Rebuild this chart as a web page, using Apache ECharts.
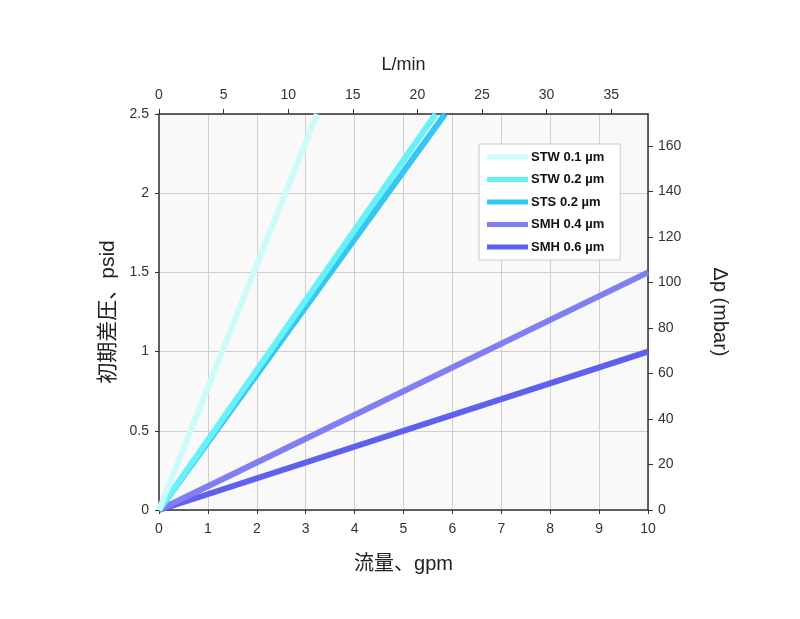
<!DOCTYPE html>
<html>
<head>
<meta charset="utf-8">
<title>初期差圧</title>
<script src="https://cdn.jsdelivr.net/npm/echarts@6/dist/echarts.min.js"></script>
<style>
  html, body { margin: 0; padding: 0; background: #fff; }
  #main { width: 800px; height: 619px; }
</style>
</head>
<body>
<div id="main"></div>
<script>
// series names and colours
var names = ['STW 0.1 µm', 'STW 0.2 µm', 'STS 0.2 µm', 'SMH 0.4 µm', 'SMH 0.6 µm'];
var colors = ['#cdfafa', '#66f2f8', '#35c6f2', '#7f7ff2', '#5f5ff0'];
// [gpm, psid] end points of each straight line
var stw01 = [[0, 0], [3.23, 2.5]];
var stw02 = [[0, 0], [5.66, 2.5]];
var sts02 = [[0, 0], [5.85, 2.5]];
var smh04 = [[0, 0], [10, 1.5]];
var smh06 = [[0, 0], [10, 1.0]];
var lines = [stw01, stw02, sts02, smh04, smh06];

var gpmMax = 10, psidMax = 2.5;
var lpmMax = 37.85;   // 10 gpm in L/min
var mbarMax = 174;    // right axis top

var font = 'Liberation Sans, Arial, Helvetica, sans-serif';
var cjk = 'Liberation Sans, "Noto Sans CJK JP", sans-serif';
var axisCol = '#333';

var chart = echarts.init(document.getElementById('main'));

var series = [];
for (var i = 0; i < names.length; i++) {
  series.push({
    name: names[i],
    type: 'line',
    data: lines[i],
    xAxisIndex: 0,
    yAxisIndex: 0,
    symbol: 'none',
    lineStyle: { width: 6, color: colors[i] },
    itemStyle: { color: colors[i] },
    z: 10 - i
  });
}

function axisLine() {
  return { show: true, onZero: false, lineStyle: { color: axisCol, width: 1.5 } };
}

var option = {
  animation: false,
  grid: {
    left: 159, right: 152, top: 114, bottom: 109,
    show: true, backgroundColor: '#f9f9f9', borderWidth: 0
  },
  legend: {
    orient: 'vertical',
    left: 479, top: 144,
    padding: [6, 16, 6, 8],
    backgroundColor: '#fff',
    borderColor: '#c8c8c8',
    borderWidth: 1,
    itemWidth: 41, itemHeight: 5,
    itemGap: 8.5,
    icon: 'rect',
    data: names,
    textStyle: { fontFamily: font, fontWeight: 'bold', fontSize: 13, color: '#111', lineHeight: 14, padding: [0, 0, 0, -2] }
  },
  xAxis: [{
    type: 'value', position: 'bottom',
    min: 0, max: gpmMax, interval: 1,
    name: '流量、gpm', nameLocation: 'middle', nameGap: 44,
    nameTextStyle: { fontFamily: cjk, fontSize: 20, color: '#222' },
    axisLine: axisLine(),
    axisTick: { show: true, length: 4, lineStyle: { color: axisCol } },
    axisLabel: { fontFamily: font, fontSize: 14, color: '#333', margin: 12 },
    splitLine: { show: true, lineStyle: { color: '#cfcfcf', width: 1 } }
  }, {
    type: 'value', position: 'top',
    min: 0, max: lpmMax, interval: 5,
    name: 'L/min', nameLocation: 'middle', nameGap: 40,
    nameTextStyle: { fontFamily: font, fontSize: 18, color: '#222' },
    axisLine: axisLine(),
    axisTick: { show: true, length: 5, lineStyle: { color: axisCol } },
    axisLabel: { fontFamily: font, fontSize: 14, color: '#333', margin: 12, showMaxLabel: false },
    splitLine: { show: false }
  }],
  yAxis: [{
    type: 'value', position: 'left',
    min: 0, max: psidMax, interval: 0.5,
    name: '初期差圧、psid', nameLocation: 'middle', nameGap: 38, nameRotate: 90,
    nameTextStyle: { fontFamily: cjk, fontSize: 21, color: '#222' },
    axisLine: axisLine(),
    axisTick: { show: true, length: 4, lineStyle: { color: axisCol } },
    axisLabel: { fontFamily: font, fontSize: 14, color: '#333', margin: 10 },
    splitLine: { show: true, lineStyle: { color: '#cfcfcf', width: 1 } }
  }, {
    type: 'value', position: 'right',
    min: 0, max: mbarMax, interval: 20,
    name: 'Δp (mbar)', nameLocation: 'middle', nameGap: 62, nameRotate: -90,
    nameTextStyle: { fontFamily: font, fontSize: 20, color: '#222' },
    axisLine: axisLine(),
    axisTick: { show: true, length: 5, lineStyle: { color: axisCol } },
    axisLabel: { fontFamily: font, fontSize: 14, color: '#333', margin: 10, showMaxLabel: false },
    splitLine: { show: false }
  }],
  series: series
};

chart.setOption(option);
</script>
</body>
</html>
